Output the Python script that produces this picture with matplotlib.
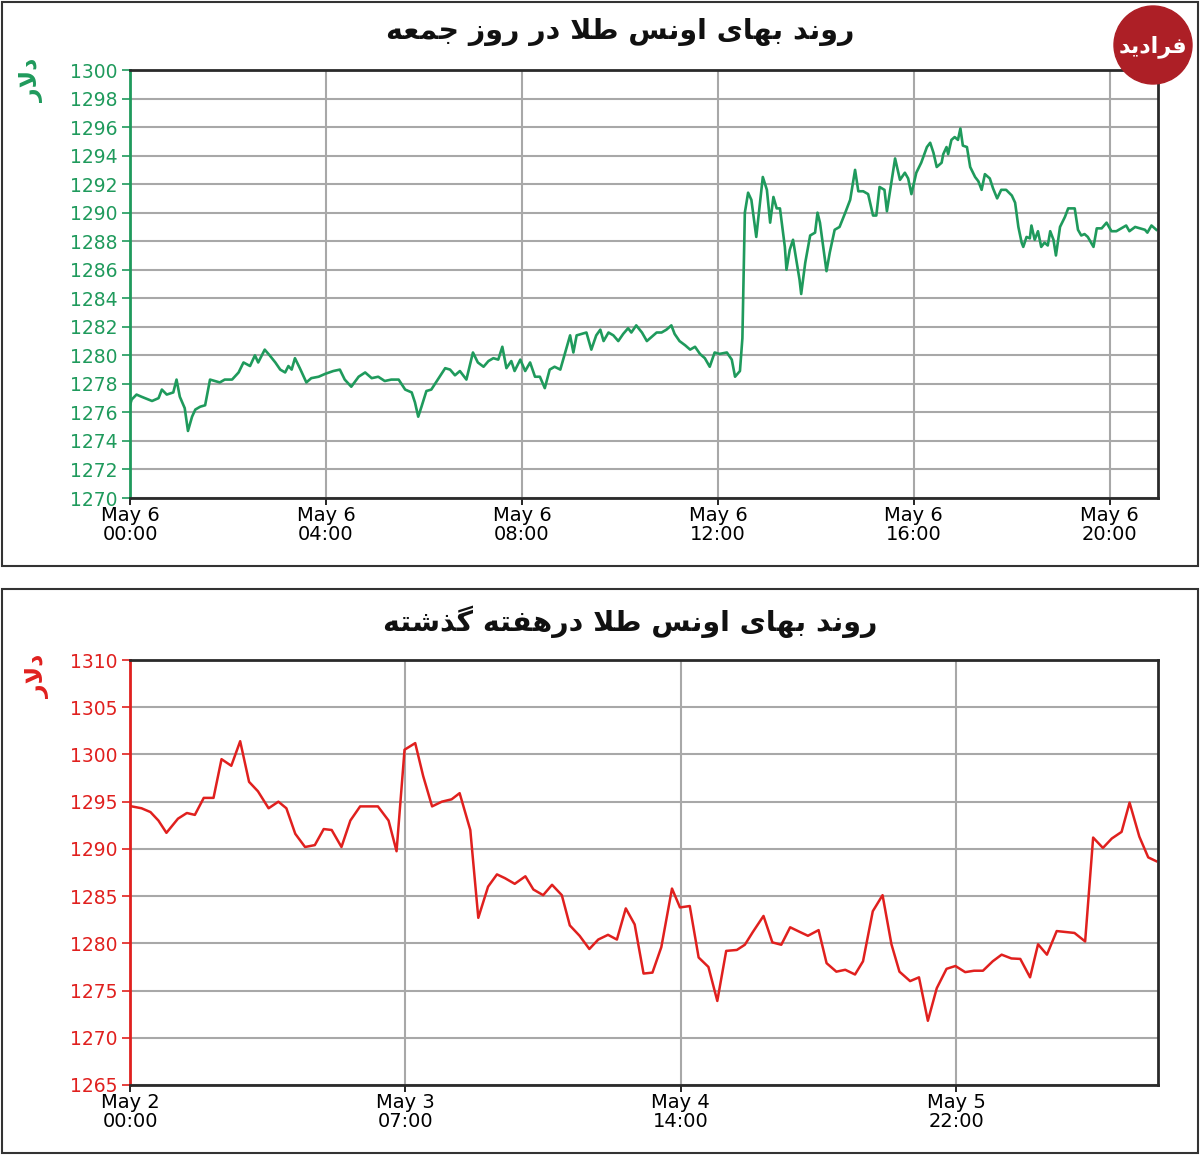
import matplotlib.pyplot as plt
from matplotlib.patches import Rectangle, Circle

# ---- data: gold ounce price, Friday (minutes after May 6 00:00) ----
day_minutes = [
    0, 2, 8, 14, 27, 35, 39, 45, 53, 57, 61, 67, 71, 76, 80, 86, 92, 98, 104, 110,
    116, 125, 133, 139, 147, 153, 157, 165, 171, 178, 184, 190, 194, 198, 202, 208,
    216, 222, 231, 239, 249, 257, 263, 271, 280, 288, 296, 304, 312, 320, 329, 337,
    345, 349, 353, 357, 363, 369, 378, 386, 392, 398, 404, 412, 420, 426, 433, 439,
    445, 451, 456, 461, 467, 471, 478, 484, 490, 496, 502, 508, 514, 520, 527, 533,
    539, 543, 547, 553, 559, 565, 571, 576, 580, 586, 592, 598, 604, 610, 614, 620,
    627, 633, 639, 645, 651, 657, 663, 667, 673, 680, 686, 692, 698, 704, 710, 716,
    722, 731, 737, 741, 747, 750, 753, 757, 761, 767, 775, 780, 784, 788, 792, 796,
    802, 804, 808, 812, 816, 820, 822, 827, 833, 839, 842, 845, 849, 853, 857, 863,
    869, 876, 882, 888, 892, 898, 904, 910, 914, 918, 924, 927, 933, 937, 943, 949,
    953, 957, 963, 969, 976, 980, 984, 988, 994, 996, 1000, 1002, 1006, 1010, 1014,
    1017, 1020, 1025, 1029, 1035, 1039, 1043, 1047, 1053, 1057, 1062, 1067, 1073,
    1080, 1084, 1088, 1092, 1094, 1098, 1102, 1104, 1108, 1112, 1116, 1120, 1124,
    1127, 1131, 1134, 1139, 1145, 1149, 1153, 1157, 1161, 1165, 1169, 1173, 1180,
    1184, 1190, 1196, 1202, 1208, 1214, 1220, 1224, 1231, 1237, 1243, 1246, 1251, 1257,
]
day_price = [
    1276.5, 1276.9, 1277.25, 1277.1, 1276.8, 1277.0, 1277.6, 1277.25, 1277.4, 1278.3,
    1277.1, 1276.3, 1274.7, 1275.7, 1276.2, 1276.4, 1276.5, 1278.3, 1278.2, 1278.1,
    1278.3, 1278.3, 1278.8, 1279.5, 1279.25, 1280.0, 1279.5, 1280.4, 1280.0, 1279.5,
    1279.0, 1278.8, 1279.25, 1279.0, 1279.8, 1279.1, 1278.1, 1278.4, 1278.5, 1278.7,
    1278.9, 1279.0, 1278.3, 1277.8, 1278.5, 1278.8, 1278.4, 1278.5, 1278.2, 1278.3,
    1278.3, 1277.6, 1277.4, 1276.7, 1275.7, 1276.4, 1277.5, 1277.6, 1278.4, 1279.1,
    1279.0, 1278.6, 1278.9, 1278.3, 1280.2, 1279.5, 1279.2, 1279.6, 1279.8, 1279.7,
    1280.6, 1279.1, 1279.6, 1278.9, 1279.7, 1278.9, 1279.5, 1278.5, 1278.5, 1277.7,
    1279.0, 1279.2, 1279.0, 1280.2, 1281.4, 1280.2, 1281.4, 1281.5, 1281.6, 1280.4,
    1281.4, 1281.8, 1281.0, 1281.6, 1281.4, 1281.0, 1281.5, 1281.9, 1281.6, 1282.1,
    1281.6, 1281.0, 1281.3, 1281.6, 1281.6, 1281.8, 1282.1, 1281.5, 1281.0, 1280.7,
    1280.4, 1280.6, 1280.1, 1279.8, 1279.2, 1280.2, 1280.1, 1280.2, 1279.7, 1278.5,
    1278.9, 1281.2, 1290.0, 1291.4, 1290.9, 1288.3, 1292.5, 1291.6, 1289.3, 1291.1,
    1290.3, 1290.3, 1287.6, 1286.0, 1287.4, 1288.1, 1286.7, 1285.3, 1284.3, 1286.5,
    1288.4, 1288.6, 1290.0, 1289.3, 1287.6, 1285.9, 1287.2, 1288.8, 1289.0, 1290.0,
    1290.9, 1293.0, 1291.5, 1291.5, 1291.3, 1289.8, 1289.8, 1291.8, 1291.6, 1290.1,
    1292.3, 1293.8, 1292.3, 1292.8, 1292.4, 1291.3, 1292.8, 1293.5, 1294.6, 1294.9,
    1294.2, 1293.2, 1293.5, 1294.1, 1294.6, 1294.1, 1295.1, 1295.3, 1295.1, 1295.9,
    1294.7, 1294.6, 1293.2, 1292.5, 1292.2, 1291.6, 1292.7, 1292.4, 1291.7, 1291.0,
    1291.6, 1291.6, 1291.2, 1290.7, 1289.0, 1287.9, 1287.6, 1288.3, 1288.2, 1289.1,
    1288.1, 1288.7, 1287.6, 1287.9, 1287.7, 1288.7, 1288.1, 1287.0, 1289.0, 1289.7,
    1290.3, 1290.3, 1290.3, 1288.8, 1288.4, 1288.5, 1288.3, 1287.6, 1288.9, 1288.9,
    1289.3, 1288.7, 1288.7, 1288.9, 1289.1, 1288.7, 1289.0, 1288.9, 1288.8, 1288.6,
    1289.1, 1288.8,
]
day_ticks = [0, 240, 480, 720, 960, 1200]
day_labels = ['May 6\n00:00', 'May 6\n04:00', 'May 6\n08:00',
              'May 6\n12:00', 'May 6\n16:00', 'May 6\n20:00']

# ---- data: last week (hours after May 2 00:00) ----
week_hours = [
    0.2, 1.3, 2.3, 3.2, 4.1, 5.4, 6.4, 7.3, 8.3, 9.4, 10.3, 11.4, 12.4, 13.4, 14.4,
    15.6, 16.7, 17.6, 18.6, 19.7, 20.8, 21.8, 22.7, 23.8, 24.8, 25.9, 27.0, 27.9,
    29.1, 30.0, 30.9, 32.1, 33.0, 34.0, 35.1, 36.2, 37.1, 38.3, 39.2, 40.3, 41.3,
    42.2, 43.3, 44.5, 45.4, 46.5, 47.5, 48.6, 49.5, 50.6, 51.7, 52.7, 53.8, 54.8,
    55.8, 56.8, 57.8, 58.8, 59.8, 61.0, 61.9, 63.0, 64.0, 65.1, 66.1, 67.1, 68.3,
    69.2, 70.1, 71.3, 72.3, 73.3, 74.3, 75.4, 76.3, 77.5, 78.4, 79.5, 80.5, 81.6,
    82.5, 83.6, 84.7, 85.7, 86.6, 87.8, 88.8, 89.8, 90.8, 91.9, 92.9, 94.0, 95.0,
    96.0, 97.1, 98.1, 99.2, 100.2, 101.3, 102.2, 103.2, 104.3, 105.3, 106.3, 107.5,
    108.4, 109.5, 110.5, 111.6, 112.5, 113.6, 114.6, 115.5,
]
week_price = [
    1294.5, 1294.3, 1293.9, 1293.0, 1291.7, 1293.2, 1293.8, 1293.6, 1295.4, 1295.4,
    1299.5, 1298.8, 1301.4, 1297.1, 1296.1, 1294.3, 1295.0, 1294.3, 1291.6, 1290.2,
    1290.4, 1292.1, 1292.0, 1290.2, 1293.0, 1294.5, 1294.5, 1294.5, 1293.0, 1289.75,
    1300.5, 1301.2, 1297.7, 1294.5, 1295.0, 1295.25, 1295.9, 1292.0, 1282.7, 1286.0,
    1287.3, 1286.9, 1286.3, 1287.1, 1285.7, 1285.1, 1286.2, 1285.1, 1281.9, 1280.8,
    1279.4, 1280.4, 1280.9, 1280.4, 1283.7, 1282.0, 1276.8, 1276.9, 1279.6, 1285.8,
    1283.8, 1283.95, 1278.5, 1277.5, 1273.9, 1279.2, 1279.3, 1279.85, 1281.2, 1282.9,
    1280.1, 1279.85, 1281.7, 1281.2, 1280.8, 1281.4, 1277.9, 1277.0, 1277.2, 1276.7,
    1278.1, 1283.4, 1285.1, 1279.9, 1277.0, 1276.0, 1276.4, 1271.8, 1275.25, 1277.3,
    1277.6, 1276.95, 1277.1, 1277.1, 1278.1, 1278.8, 1278.4, 1278.35, 1276.4, 1279.9,
    1278.8, 1281.3, 1281.2, 1281.1, 1280.2, 1291.2, 1290.1, 1291.1, 1291.8, 1294.9,
    1291.3, 1289.1, 1288.7,
]
week_ticks = [0, 31, 62, 93]
week_labels = ['May 2\n00:00', 'May 3\n07:00', 'May 4\n14:00', 'May 5\n22:00']

title_day = 'روند بهای اونس طلا در روز جمعه'
title_week = 'روند بهای اونس طلا درهفته گذشته'
unit_label = 'دلار'
logo_text = 'فرادید'

# ---- minimal Persian shaping (matplotlib has no RTL / joining) ----
FORMS = {
    'ا': ('\ufe8d', '\ufe8e'), 'د': ('\ufea9', '\ufeaa'), 'ذ': ('\ufeab', '\ufeac'),
    'ر': ('\ufead', '\ufeae'), 'ز': ('\ufeaf', '\ufeb0'), 'و': ('\ufeed', '\ufeee'),
    'ب': ('\ufe8f', '\ufe90', '\ufe91', '\ufe92'),
    'ت': ('\ufe95', '\ufe96', '\ufe97', '\ufe98'),
    'ج': ('\ufe9d', '\ufe9e', '\ufe9f', '\ufea0'),
    'س': ('\ufeb1', '\ufeb2', '\ufeb3', '\ufeb4'),
    'ش': ('\ufeb5', '\ufeb6', '\ufeb7', '\ufeb8'),
    'ط': ('\ufec1', '\ufec2', '\ufec3', '\ufec4'),
    'ع': ('\ufec9', '\ufeca', '\ufecb', '\ufecc'),
    'ف': ('\ufed1', '\ufed2', '\ufed3', '\ufed4'),
    'ل': ('\ufedd', '\ufede', '\ufedf', '\ufee0'),
    'م': ('\ufee1', '\ufee2', '\ufee3', '\ufee4'),
    'ن': ('\ufee5', '\ufee6', '\ufee7', '\ufee8'),
    'ه': ('\ufee9', '\ufeea', '\ufeeb', '\ufeec'),
    'ی': ('\ufbfc', '\ufbfd', '\ufbfe', '\ufbff'),
    'گ': ('\ufb92', '\ufb93', '\ufb94', '\ufb95'),
}


def shape_fa(text):
    out = []
    prev_joins = False
    i = 0
    while i < len(text):
        ch = text[i]
        nxt = text[i + 1] if i + 1 < len(text) else ''
        if ch not in FORMS:
            out.append(ch)
            prev_joins = False
            i += 1
            continue
        if ch == 'ل' and nxt == 'ا':  # lam-alef ligature
            out.append('\ufefc' if prev_joins else '\ufefb')
            prev_joins = False
            i += 2
            continue
        f = FORMS[ch]
        joins_next = len(f) == 4 and nxt in FORMS
        if prev_joins and joins_next:
            g = f[3]
        elif prev_joins:
            g = f[1]
        elif joins_next:
            g = f[2]
        else:
            g = f[0]
        out.append(g)
        prev_joins = joins_next
        i += 1
    return ''.join(reversed(out))


plt.rcParams['font.family'] = ['DejaVu Sans']

W, H = 1200, 1156
fig = plt.figure(figsize=(W / 100, H / 100), dpi=100)


def fx(px):
    return px / W


def fy(py):
    return 1 - py / H


# panel frames
for top, bot in [(2, 566), (589, 1153)]:
    fig.add_artist(Rectangle((fx(2), fy(bot)), fx(1196), (bot - top) / H,
                             transform=fig.transFigure, fill=False,
                             ec='#333333', lw=1.5))


def style_axes(ax, color, ticks, labels, yticks, xlim, ylim):
    ax.set_xlim(*xlim)
    ax.set_ylim(*ylim)
    ax.set_xticks(ticks)
    ax.set_xticklabels(labels, fontsize=14, linespacing=0.95)
    ax.set_yticks(yticks)
    ax.set_yticklabels([str(v) for v in yticks], fontsize=13.5, color=color)
    ax.grid(True, color='#a8a8a8', lw=1.5)
    ax.tick_params(axis='y', colors=color, length=6, width=1.2, pad=3)
    ax.tick_params(axis='x', colors='black', length=5, width=1.2, pad=1)
    for s in ['top', 'right', 'bottom']:
        ax.spines[s].set_color('#2a2a2a')
        ax.spines[s].set_linewidth(2)
    ax.spines['left'].set_color(color)
    ax.spines['left'].set_linewidth(2)


green = '#1f9a5c'
red = '#e0201e'

ax1 = fig.add_axes([fx(130), fy(498), fx(1028), 428 / H])
ax1.plot(day_minutes, day_price, color=green, lw=1.9)
style_axes(ax1, green, day_ticks, day_labels, list(range(1270, 1301, 2)),
           (0, 1259), (1270, 1300))

ax2 = fig.add_axes([fx(130), fy(1085), fx(1028), 425 / H])
ax2.plot(week_hours, week_price, color=red, lw=1.8)
style_axes(ax2, red, week_ticks, week_labels, list(range(1265, 1311, 5)),
           (0, 115.7), (1265, 1310))

# titles and unit labels
fig.text(fx(620), fy(32), shape_fa(title_day), ha='center', va='center',
         fontsize=20.5, fontweight='bold', color='#111111')
fig.text(fx(630), fy(622), shape_fa(title_week), ha='center', va='center',
         fontsize=20.5, fontweight='bold', color='#111111')
fig.text(fx(32), fy(80), shape_fa(unit_label), rotation=90, ha='center',
         va='center', fontsize=17, fontweight='bold', color=green)
fig.text(fx(38), fy(676), shape_fa(unit_label), rotation=90, ha='center',
         va='center', fontsize=17, fontweight='bold', color=red)

# logo
fig.add_artist(Circle((11.53, (H - 45) / 100), 0.39, transform=fig.dpi_scale_trans,
                      color='#ad1f26', zorder=5))
fig.text(fx(1153), fy(47), shape_fa(logo_text), ha='center', va='center',
         fontsize=16, fontweight='bold', color='white', zorder=6)

fig.savefig('out.png', dpi=100)
